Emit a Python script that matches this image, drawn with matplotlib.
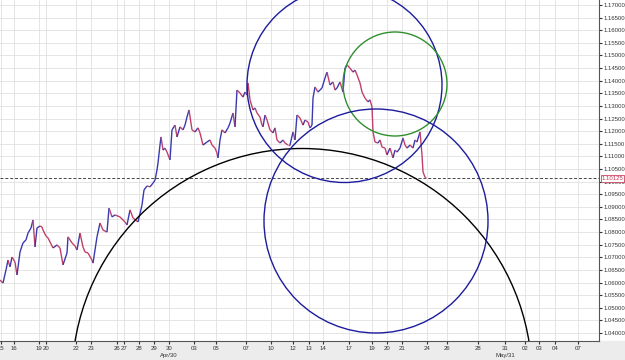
import numpy as np
import matplotlib
matplotlib.use("Agg")
import matplotlib.pyplot as plt
from matplotlib.patches import Ellipse, Rectangle
from matplotlib.collections import LineCollection

plt.rcParams['font.family'] = ['Liberation Sans', 'DejaVu Sans']

# price path (bar position, price)
bars = [0, 3, 6, 8, 10, 12, 15, 17, 20, 23, 26, 28, 31, 33, 35, 37, 40, 42, 43, 46,
        48, 51, 53, 57, 60, 63, 67, 68, 72, 75, 77, 80, 83, 85, 88, 92, 93, 97, 100, 103,
        107, 109, 112, 115, 120, 125, 127, 130, 133, 138, 142, 144, 147, 150, 153, 155, 157, 158, 160, 161,
        163, 165, 167, 170, 172, 175, 177, 180, 183, 185, 187, 189, 192, 195, 198, 200, 203, 207, 210, 212,
        215, 217, 218, 220, 222, 225, 228, 230, 233, 235, 237, 240, 243, 245, 247, 248, 250, 253, 255, 257,
        260, 262, 263, 265, 267, 270, 273, 275, 277, 280, 283, 285, 288, 290, 293, 295, 297, 300, 303, 305,
        308, 310, 312, 313, 315, 318, 320, 322, 325, 327, 330, 333, 335, 337, 340, 343, 345, 347, 350, 353,
        355, 357, 360, 362, 365, 368, 370, 372, 373, 375, 378, 380, 382, 385, 387, 390, 393, 395, 397, 400,
        403, 405, 407, 410, 413, 415, 417, 420, 422, 423, 425, 426]
prices = [1.0610, 1.0598, 1.0650, 1.0689, 1.0662, 1.0701, 1.0681, 1.0630, 1.0721, 1.0757,
          1.0769, 1.0796, 1.0816, 1.0848, 1.0741, 1.0816, 1.0824, 1.0820, 1.0808, 1.0784,
          1.0777, 1.0753, 1.0737, 1.0749, 1.0737, 1.0670, 1.0717, 1.0781, 1.0757, 1.0745,
          1.0729, 1.0796, 1.0741, 1.0721, 1.0717, 1.0689, 1.0677, 1.0781, 1.0836, 1.0808,
          1.0800, 1.0895, 1.0860, 1.0868, 1.0860, 1.0840, 1.0828, 1.0888, 1.0856, 1.0840,
          1.0907, 1.0967, 1.0983, 1.0979, 1.0994, 1.1006, 1.1046, 1.1074, 1.1145, 1.1177,
          1.1125, 1.1133, 1.1117, 1.1086, 1.1205, 1.1224, 1.1177, 1.1217, 1.1205, 1.1224,
          1.1256, 1.1284, 1.1205, 1.1197, 1.1213, 1.1193, 1.1145, 1.1157, 1.1165, 1.1145,
          1.1133, 1.1113, 1.1094, 1.1165, 1.1205, 1.1193, 1.1213, 1.1232, 1.1272, 1.1217,
          1.1363, 1.1351, 1.1335, 1.1355, 1.1343, 1.1391, 1.1324, 1.1284, 1.1292, 1.1272,
          1.1256, 1.1224, 1.1217, 1.1264, 1.1244, 1.1205, 1.1193, 1.1213, 1.1165, 1.1153,
          1.1165, 1.1153, 1.1145, 1.1145, 1.1197, 1.1165, 1.1264, 1.1252, 1.1224, 1.1244,
          1.1236, 1.1213, 1.1224, 1.1331, 1.1375, 1.1355, 1.1363, 1.1371, 1.1411, 1.1434,
          1.1383, 1.1395, 1.1363, 1.1371, 1.1395, 1.1355, 1.1450, 1.1462, 1.1450, 1.1434,
          1.1442, 1.1423, 1.1391, 1.1355, 1.1331, 1.1316, 1.1324, 1.1296, 1.1197, 1.1157,
          1.1153, 1.1165, 1.1137, 1.1133, 1.1106, 1.1133, 1.1094, 1.1125, 1.1117, 1.1133,
          1.1173, 1.1145, 1.1133, 1.1145, 1.1133, 1.1165, 1.1157, 1.1197, 1.1106, 1.1038,
          1.1018, 1.1013]
last_price = 1.10125

# date axis
tick_pos = [0.5, 14, 39, 46, 76, 91, 117, 124, 139, 154, 169, 194, 216, 246, 271, 293, 309,
            323, 349, 372, 387, 402, 427, 447, 478, 505, 525, 539, 555, 578]
tick_lbl = ["15", "16", "19", "20", "22", "23", "26", "27", "28", "29", "30\nApr/30", "03", "05",
            "07", "10", "12", "13", "14", "17", "19", "20", "21", "24", "26", "28", "31\nMay/31",
            "02", "03", "04", "07"]
price_ticks = np.round(np.arange(1.040, 1.1701, 0.005), 3)

# drawn circles: (center bar, center price, radius px, colour)
circles = [(302, 1.02196, 230, "black"),
           (344.5, 1.13829, 97.5, "#1c1c9c"),
           (395, 1.13869, 52, "#2f8f2f"),
           (376, 1.08439, 112, "#1c1c9c")]

px_per_unit = 2523.0  # vertical pixels per 1.0 of price

fig = plt.figure(figsize=(6.25, 3.6), dpi=100)
fig.patches.append(Rectangle((0, 0), 1, 19 / 360, transform=fig.transFigure,
                             color="#ececec", zorder=-10))
ax = fig.add_axes([0, 19 / 360, 599 / 625, 341 / 360])
ax.set_zorder(1)
ax.patch.set_facecolor("white")

ax.set_xlim(0, 599)
ax.set_ylim(1.17 - 336 / px_per_unit, 1.17 + 5 / px_per_unit)

for p in price_ticks:
    ax.axhline(p, color="#e0e0e0", lw=0.6, zorder=0)
for t in tick_pos:
    ax.axvline(t, color="#e0e0e0", lw=0.6, zorder=0)

pts = np.column_stack([bars, prices])
segs = np.stack([pts[:-1], pts[1:]], axis=1)
cols = ["#3a3ab0" if b > a else "#c0406a" for a, b in zip(prices[:-1], prices[1:])]
ax.add_collection(LineCollection(segs, colors=cols, linewidths=1.0, zorder=3))

ax.axhline(last_price, color="#444444", lw=0.7, ls=(0, (3, 2)), zorder=2)

for cx, cy, r, c in circles:
    ax.add_patch(Ellipse((cx, cy), 2 * r, 2 * r / px_per_unit, fill=False,
                         edgecolor=c, lw=1.0, zorder=4))

ax.yaxis.tick_right()
ax.set_yticks(price_ticks)
ax.set_yticklabels(["%.5f" % p for p in price_ticks])
ax.set_xticks(tick_pos)
ax.set_xticklabels(tick_lbl, linespacing=1.6)
ax.tick_params(axis="y", length=2, pad=1, labelsize=4.3, colors="#333333")
ax.tick_params(axis="x", length=2, pad=1.5, labelsize=4.3, colors="#333333")

for s in ["top", "left"]:
    ax.spines[s].set_visible(False)
ax.spines["right"].set_color("#555555")
ax.spines["bottom"].set_color("#555555")
ax.spines["right"].set_linewidth(0.8)
ax.spines["bottom"].set_linewidth(0.8)

ax.text(1.004, last_price, "%.5f" % last_price, transform=ax.get_yaxis_transform(),
        fontsize=4.3, color="#c03050", va="center", ha="left", zorder=10, clip_on=False,
        bbox=dict(boxstyle="square,pad=0.15", fc="white", ec="#d04060", lw=0.6))

fig.savefig("out.png", dpi=100)
